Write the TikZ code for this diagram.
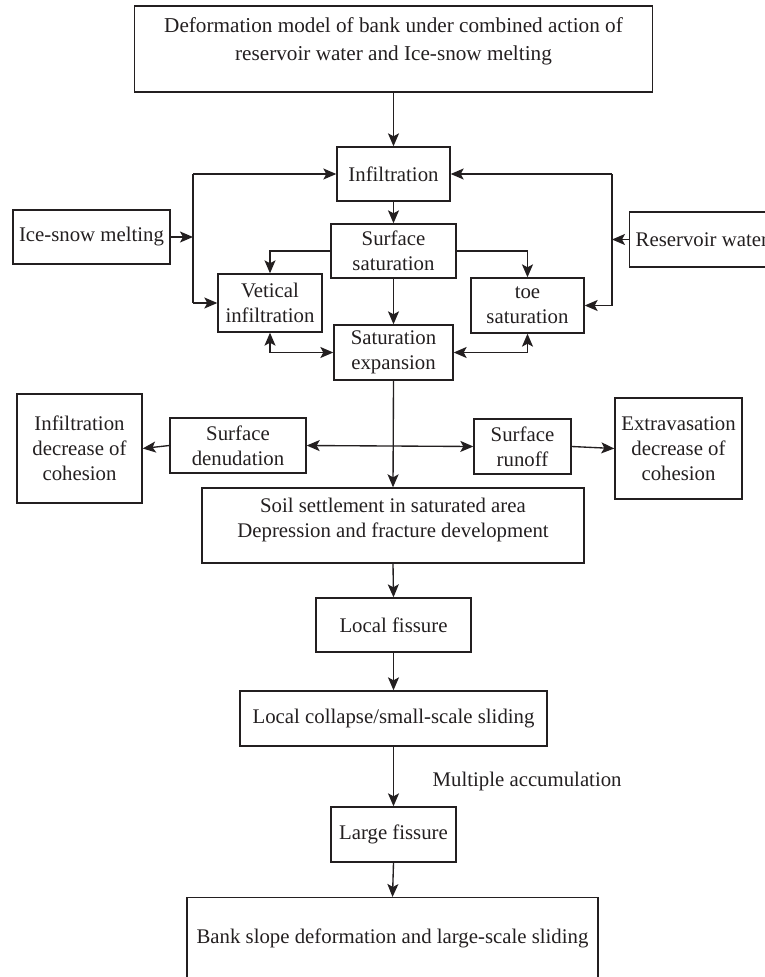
\documentclass[tikz,border=0pt]{standalone}
\usepackage{fontspec}
\setmainfont{Liberation Serif}
\usetikzlibrary{arrows.meta}
\definecolor{ink}{RGB}{35,31,32}
\begin{document}
\begin{tikzpicture}[x=1pt,y=-1pt,
  box/.style={draw=ink, line width=1.35pt, rectangle, align=center, inner sep=3pt,
    font=\fontsize{20.8}{25}\selectfont, text=ink},
  tip/.tip={Stealth[length=13pt,width=11pt,inset=3pt]},
  ln/.style={draw=ink, line width=1.35pt},
  arr/.style={ln, -tip},
  dbl/.style={ln, tip-tip}]
\useasboundingbox (0,0) rectangle (765,977);

% nodes
\node[box, minimum width=518pt, minimum height=86pt, font=\fontsize{21.2}{28}\selectfont]
  (top) at (393.5,49) {Deformation model of bank under combined action of\\reservoir water and Ice-snow melting\\[-9pt]\mbox{}};
\node[box, minimum width=113pt, minimum height=54pt] (infil) at (393.5,174) {Infiltration};
\node[box, minimum width=157pt, minimum height=54pt] (ice) at (91.5,237) {Ice-snow melting};
\node[box, anchor=west, inner xsep=6pt, minimum height=55pt] (res) at (629,239.5) {Reservoir water};
\node[box, minimum width=125pt, minimum height=54pt] (ssat) at (393.5,251) {Surface\\saturation};
\node[box, minimum width=104pt, minimum height=58pt] (vet) at (270,303) {Vetical\\infiltration};
\node[box, minimum width=113pt, minimum height=55pt] (toe) at (527.5,305.5) {toe\\saturation};
\node[box, minimum width=119pt, minimum height=55pt] (sexp) at (393.5,352.5) {Saturation\\expansion};
\node[box, minimum width=125pt, minimum height=109pt] (idc) at (79.5,448.5) {Infiltration\\decrease of\\cohesion};
\node[box, minimum width=136pt, minimum height=55pt] (sden) at (238,445.5) {Surface\\denudation};
\node[box, minimum width=97pt, minimum height=55pt] (srun) at (522.5,446.5) {Surface\\runoff};
\node[box, minimum width=127pt, minimum height=101pt] (ext) at (678.5,448.5) {Extravasation\\decrease of\\cohesion};
\node[box, minimum width=382pt, minimum height=75pt] (soil) at (393,525.5) {Soil settlement in saturated area\\Depression and fracture development\\[-10pt]\mbox{}};
\node[box, minimum width=155pt, minimum height=54pt] (lfis) at (393.5,625) {Local fissure};
\node[box, minimum width=307pt, minimum height=55pt] (lcol) at (393.5,718.5) {Local collapse/small-scale sliding};
\node[box, minimum width=125pt, minimum height=55pt] (lgf) at (393.5,834.5) {Large fissure};
\node[box, align=left, anchor=north, inner ysep=0pt, text height=46pt, text depth=70pt, minimum width=411pt]
  (bank) at (392.5,897) {Bank slope deformation and large-scale sliding};

% bus coordinates
\coordinate (L1) at (193,174);
\coordinate (Lm) at (193,237);
\coordinate (L2) at (193,303);
\coordinate (R1) at (612,174);
\coordinate (Rm) at (612,239.5);
\coordinate (R2) at (612,305.5);

% connectors
\draw[arr] (top.south) -- (infil.north);
\draw[arr] (infil.south) -- (ssat.north);
\draw[arr] (ssat.south) -- (sexp.north);

\draw[arr] (ice.east) -- (Lm);
\draw[ln] (L1) -- (L2);
\draw[arr] (L1) -- (infil.west);
\draw[arr] (L2) -- (vet.west);

\draw[arr] (res.west) -- (Rm);
\draw[ln] (R1) -- (R2);
\draw[arr] (R1) -- (infil.east);
\draw[arr] (R2) -- (toe.east);

\draw[arr] (ssat.west) -| (vet.north);
\draw[arr] (ssat.east) -| (toe.north);
\draw[dbl] (vet.south) |- (sexp.west);
\draw[dbl] (toe.south) |- (sexp.east);

\draw[arr] (sexp.south) -- (soil.north);
\draw[dbl] (sden.east) -- (srun.west);
\draw[arr] (sden.west) -- (idc.east);
\draw[arr] (srun.east) -- (ext.west);

\draw[arr] (soil.south) -- (lfis.north);
\draw[arr] (lfis.south) -- (lcol.north);
\draw[arr] (lcol.south) -- node[pos=0.58, anchor=west, inner sep=0pt, xshift=38.5pt,
   font=\fontsize{20.8}{25}\selectfont, text=ink] (macc) {Multiple accumulation} (lgf.north);
\draw[arr] (lgf.south) -- (bank.north);
\end{tikzpicture}
\end{document}
